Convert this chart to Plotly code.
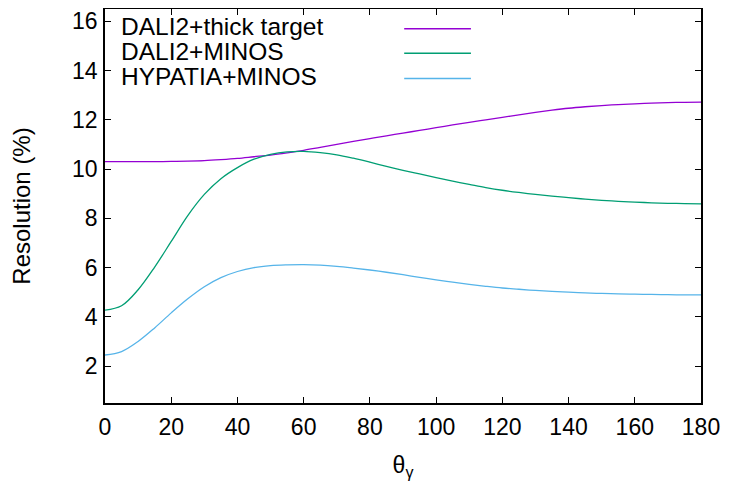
import plotly.graph_objects as go

theta = [0, 5, 10, 15, 20, 25, 30, 35, 40, 45, 50, 55, 60, 65, 70, 75, 80, 85,
         90, 95, 100, 105, 110, 115, 120, 125, 130, 135, 140, 145, 150, 155,
         160, 165, 170, 175, 180]

dali2_thick = [10.30, 10.30, 10.30, 10.30, 10.31, 10.32, 10.34, 10.38, 10.43,
               10.50, 10.57, 10.66, 10.76, 10.88, 11.00, 11.12, 11.24, 11.35,
               11.46, 11.57, 11.68, 11.79, 11.90, 12.00, 12.10, 12.20, 12.30,
               12.39, 12.47, 12.53, 12.58, 12.62, 12.65, 12.68, 12.70, 12.71,
               12.72]

dali2_minos = [4.27, 4.45, 5.10, 6.02, 7.06, 8.11, 8.97, 9.61, 10.06, 10.40,
               10.60, 10.70, 10.72, 10.67, 10.58, 10.44, 10.28, 10.11, 9.95,
               9.80, 9.65, 9.51, 9.38, 9.25, 9.14, 9.05, 8.97, 8.90, 8.84,
               8.78, 8.73, 8.69, 8.66, 8.63, 8.61, 8.60, 8.59]

hypatia_minos = [2.45, 2.59, 3.00, 3.55, 4.16, 4.73, 5.22, 5.59, 5.84, 6.00,
                 6.08, 6.11, 6.12, 6.10, 6.05, 5.98, 5.90, 5.81, 5.71, 5.60,
                 5.50, 5.41, 5.32, 5.24, 5.17, 5.12, 5.07, 5.03, 5.00, 4.97,
                 4.95, 4.93, 4.92, 4.91, 4.90, 4.89, 4.89]

series_names = ["DALI2+thick target", "DALI2+MINOS", "HYPATIA+MINOS"]
series_values = [dali2_thick, dali2_minos, hypatia_minos]
colors = ["#9400D3", "#009E73", "#56B4E9"]

x_ticks = [0, 20, 40, 60, 80, 100, 120, 140, 160, 180]
y_ticks = [2, 4, 6, 8, 10, 12, 14, 16]

FONT = "Liberation Sans, Arial, sans-serif"
FS = 23

fig = go.Figure()
for name, vals, col in zip(series_names, series_values, colors):
    fig.add_trace(go.Scatter(x=theta, y=vals, mode="lines", name=name,
                             line=dict(color=col, width=1.3, shape="spline",
                                       smoothing=1.0),
                             showlegend=False))

# gnuplot-style key: text on the left, sample line on the right
row_y = [0.950, 0.8876, 0.8236]  # paper coords of key rows
for name, col, ry in zip(series_names, colors, row_y):
    fig.add_annotation(xref="paper", yref="paper", x=0.024, y=ry + 0.005,
                       xanchor="left", yanchor="middle", text=name,
                       showarrow=False, font=dict(family=FONT, size=24.5, color="black"))
    fig.add_shape(type="line", xref="paper", yref="paper",
                  x0=0.502, x1=0.614, y0=ry, y1=ry,
                  line=dict(color=col, width=1.6))

axis_common = dict(showline=True, linecolor="black", linewidth=1.5, mirror="ticks",
                   ticks="inside", ticklen=6, tickwidth=1, tickcolor="black",
                   showgrid=False, zeroline=False,
                   tickfont=dict(family=FONT, size=FS, color="black"))

fig.update_xaxes(range=[0, 180], tickvals=x_ticks, ticklabelstandoff=3,
                 title=dict(text="θ<sub>γ</sub>", font=dict(family=FONT, size=FS, color="black"),
                            standoff=18),
                 **axis_common)
fig.update_yaxes(range=[0.5, 16.5], tickvals=y_ticks, ticklabelstandoff=1,
                 title=dict(text="Resolution (%)", font=dict(family=FONT, size=24, color="black"),
                            standoff=36),
                 **axis_common)

# page body has an 8px default margin; size the figure to fit the 729x481 window
fig.update_layout(width=721, height=473, plot_bgcolor="white", paper_bgcolor="white",
                  margin=dict(l=97, r=28, t=1, b=78, autoexpand=False),
                  font=dict(family=FONT, size=FS, color="black"))

fig.write_html("out.html")
